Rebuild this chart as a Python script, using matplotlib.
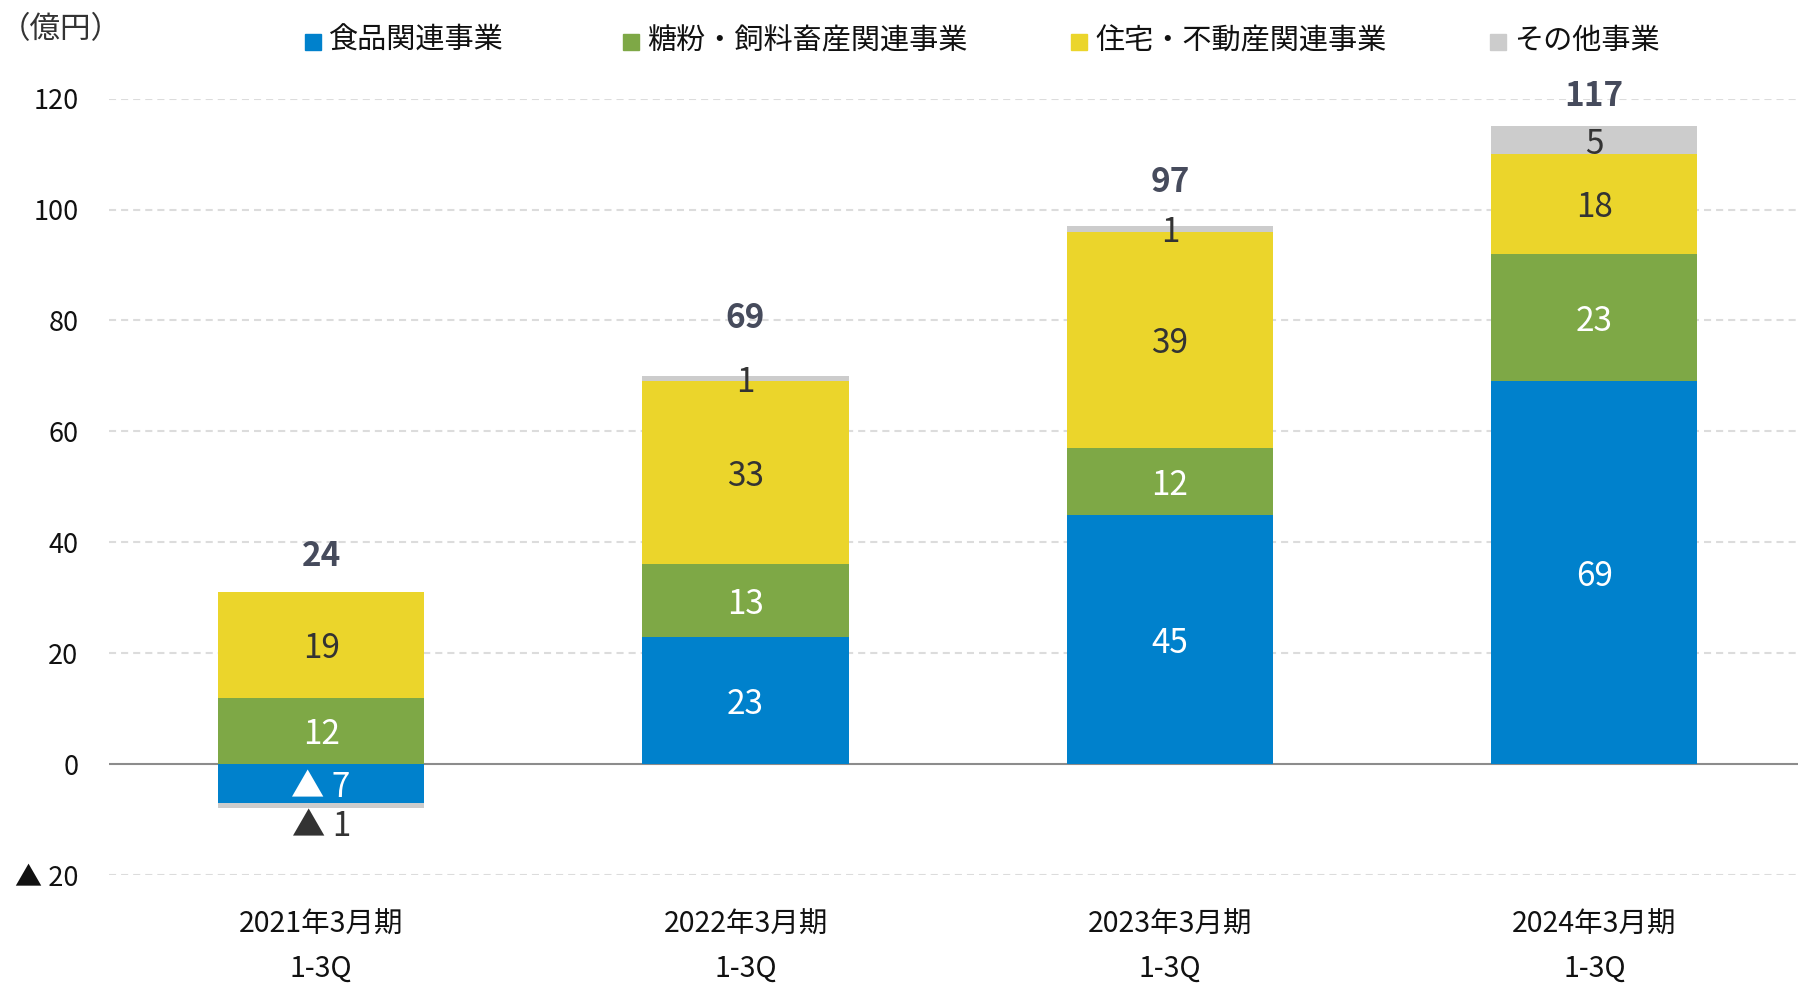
import matplotlib

matplotlib.use("Agg")
import matplotlib.pyplot as plt
from matplotlib.patches import Rectangle

plt.rcParams["font.family"] = ["Noto Sans CJK JP", "DejaVu Sans"]

periods = ["2021年3月期", "2022年3月期", "2023年3月期", "2024年3月期"]
quarter = "1-3Q"
segments = ["食品関連事業", "糖粉・飼料畜産関連事業", "住宅・不動産関連事業", "その他事業"]
food = [-7, 23, 45, 69]
sugar_feed = [12, 13, 12, 23]
housing = [19, 33, 39, 18]
other = [-1, 1, 1, 5]
totals = [24, 69, 97, 117]
y_ticks = [-20, 0, 20, 40, 60, 80, 100, 120]

colors = ["#0081cc", "#7ea846", "#ebd52b", "#cccccc"]
text_colors = ["white", "white", "#333333", "#333333"]
total_offsets = [7, 11, 8.5, 6]  # label lift above the stack, in data units

W, H = 1798, 986
fig = plt.figure(figsize=(W / 100, H / 100), dpi=100)
ax = fig.add_axes([109 / W, 1 - 875 / H, 1 - 109 / W, (875 - 98.6) / H])

x = list(range(len(periods)))
series = [food, sugar_feed, housing, other]
pos_base = [0.0] * len(x)
neg_base = [0.0] * len(x)

seg_fs = 24
for vals, col, tcol in zip(series, colors, text_colors):
    bottoms = [pb if v >= 0 else nb for v, pb, nb in zip(vals, pos_base, neg_base)]
    ax.bar(x, vals, bottom=bottoms, width=0.486, color=col, zorder=2)
    for i, (v, b) in enumerate(zip(vals, bottoms)):
        if v < 0:
            label = f"▲ {abs(v)}"
            if abs(v) <= 1:
                ax.text(i, b + v - 2.6, label, ha="center", va="center_baseline",
                        fontsize=seg_fs, color="#333333", zorder=3)
            else:
                ax.text(i, b + v / 2, label, ha="center", va="center_baseline",
                        fontsize=seg_fs, color=tcol, zorder=3)
        else:
            ax.text(i, b + v / 2, str(v), ha="center", va="center_baseline",
                    fontsize=seg_fs, color=tcol, zorder=3)
    for i, v in enumerate(vals):
        if v >= 0:
            pos_base[i] += v
        else:
            neg_base[i] += v

for i, (t, off) in enumerate(zip(totals, total_offsets)):
    ax.text(i, pos_base[i] + off, str(t), ha="center", va="center_baseline",
            fontsize=24, fontweight="bold", color="#464b5c", zorder=3, clip_on=False)

ax.set_xlim(-0.5, 3.48)
ax.set_ylim(-20, 120)
ax.set_yticks(y_ticks)
ax.set_yticklabels([f"▲ {abs(v)}" if v < 0 else str(v) for v in y_ticks],
                   fontsize=19.5, color="#111111")
ax.set_xticks(x)
ax.set_xticklabels([f"{p}\n{quarter}" for p in periods], fontsize=20.5,
                   color="#111111", linespacing=1.6)
ax.tick_params(axis="both", length=0)
ax.tick_params(axis="y", pad=22)
ax.tick_params(axis="x", pad=25)
for s in ax.spines.values():
    s.set_visible(False)

for v in y_ticks:
    if v != 0:
        ax.axhline(v, color="#dcdcdc", lw=1.5, ls=(0, (3.4, 2.4)), zorder=0)
ax.axhline(0, color="#8c8c8c", lw=1.5, zorder=1)

# legend drawn by hand along the top
legend_x = [305, 623, 1071, 1490]
for lx, name, col in zip(legend_x, segments, colors):
    fig.patches.append(Rectangle((lx / W, 1 - 50 / H), 16 / W, 16 / H,
                                 transform=fig.transFigure, color=col))
    fig.text((lx + 24) / W, 1 - 41 / H, name, ha="left", va="center",
             fontsize=21, color="#111111")

fig.text(0, 1 - 30 / H, "（億円）", ha="left", va="center", fontsize=22,
         color="#333333")

fig.savefig("out.png", dpi=100)
